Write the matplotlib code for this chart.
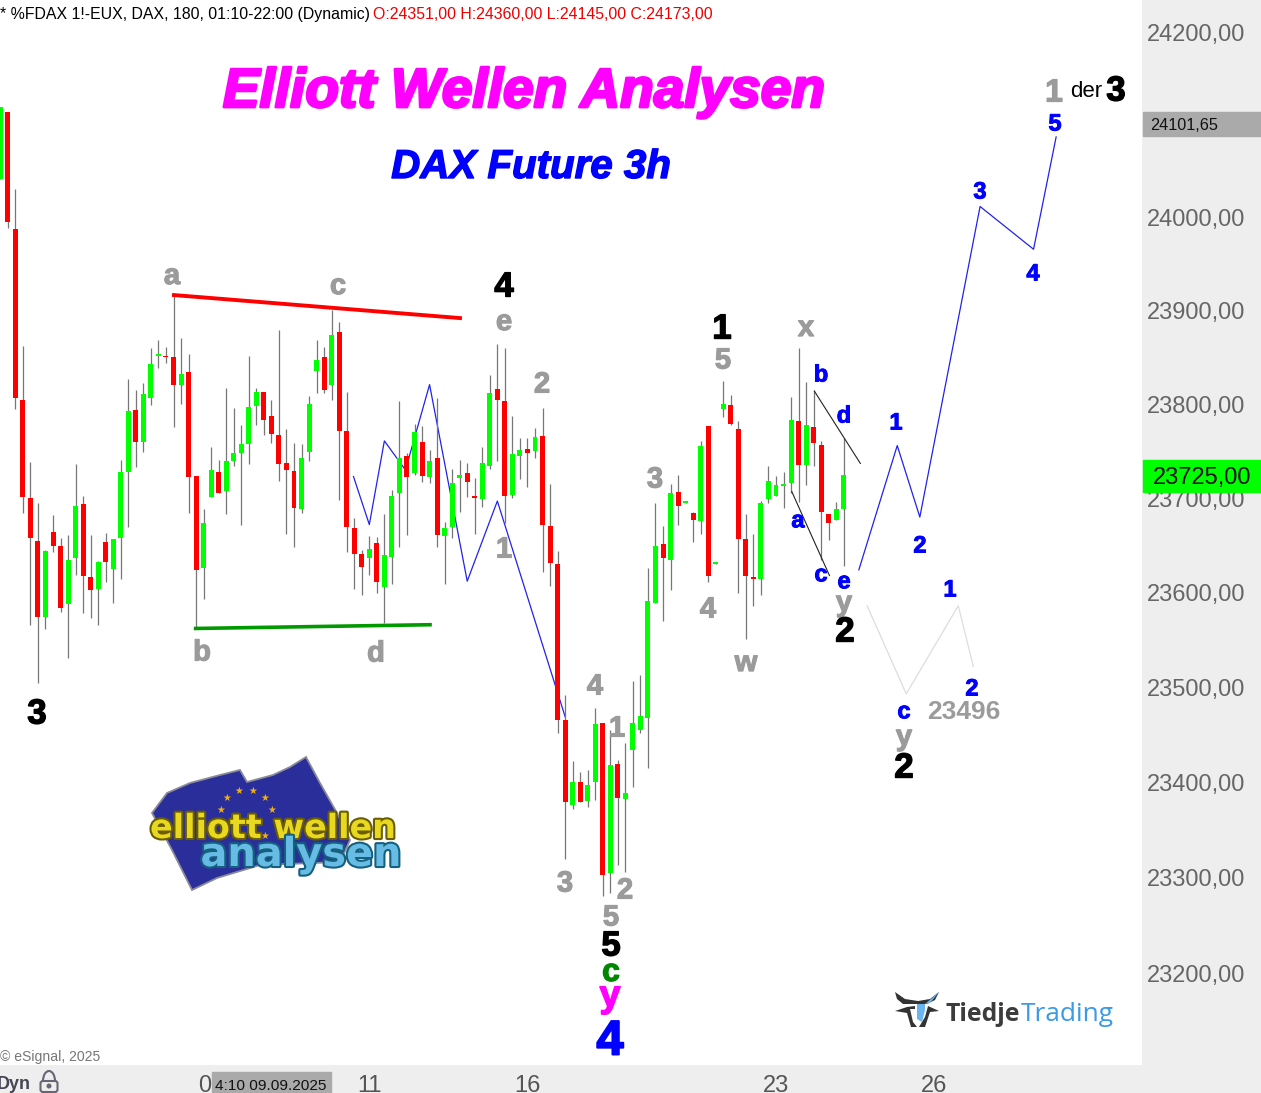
import matplotlib
matplotlib.use('Agg')
import matplotlib.pyplot as plt
import matplotlib.patheffects as pe
from matplotlib.patches import Polygon, Rectangle, FancyBboxPatch, Arc, Circle
from matplotlib.ticker import FixedLocator, FixedFormatter, NullLocator
from matplotlib.transforms import Affine2D
import numpy as np

W, H = 1261, 1093
plt.rcParams['font.family'] = ['Liberation Sans', 'DejaVu Sans']

# 3h candles, bar 0 is the one cut off at the left edge
opens = [24042,24114,23988,23805,23700,23655,23574,23664,23649,23588,23637,23694,23616,23604,23654,23625,23658,23728,23794,23760,
         23807,23852,23852,23850,23821,23835,23724,23626,23701,23728,23708,23740,23748,23758,23798,23813,23788,23767,23737,23729,
         23689,23749,23836,23850,23821,23877,23772,23668,23641,23637,23652,23606,23638,23706,23745,23727,23760,23723,23743,23660,
         23669,23721,23727,23702,23699,23734,23816,23804,23703,23745,23752,23750,23766,23670,23630,23466,23376,23400,23381,23400,
         23462,23305,23419,23383,23434,23455,23468,23589,23651,23634,23707,23695,23684,23676,23777,23630,23795,23799,23774,23657,
         23616,23614,23699,23702,23713,23716,23782,23735,23776,23757,23683,23677,23689]
highs = [24119,24114,24031,23862,23739,23695,23645,23682,23658,23661,23736,23702,23661,23633,23663,23657,23741,23827,23815,23823,
         23860,23869,23861,23916,23871,23854,23724,23689,23755,23741,23817,23796,23778,23852,23817,23813,23805,23879,23774,23759,
         23758,23809,23869,23861,23901,23888,23813,23679,23645,23660,23659,23683,23709,23803,23748,23779,23777,23751,23807,23675,
         23731,23741,23737,23722,23755,23831,23864,23860,23788,23764,23764,23775,23796,23715,23644,23492,23422,23411,23413,23478,
         23462,23455,23423,23441,23507,23513,23626,23695,23670,23715,23725,23697,23685,23761,23777,23632,23825,23810,23782,23683,
         23662,23697,23734,23724,23728,23808,23860,23824,23815,23761,23683,23696,23764]
lows = [24042,23989,23795,23684,23566,23505,23561,23643,23579,23531,23619,23578,23573,23566,23611,23589,23614,23669,23733,23749,
        23799,23839,23844,23776,23800,23684,23564,23593,23701,23706,23683,23734,23672,23736,23778,23767,23759,23718,23662,23648,
        23684,23740,23812,23812,23805,23698,23643,23604,23597,23619,23600,23568,23609,23648,23661,23725,23717,23716,23648,23609,
        23658,23685,23701,23662,23691,23731,23740,23674,23700,23720,23712,23743,23622,23607,23452,23320,23372,23379,23374,23382,
        23281,23284,23314,23306,23395,23452,23415,23589,23570,23603,23672,23695,23654,23662,23611,23630,23786,23778,23599,23551,
        23586,23597,23695,23702,23690,23706,23696,23714,23734,23634,23656,23677,23628]
closes = [24119,23995,23807,23701,23658,23574,23644,23649,23584,23634,23692,23617,23603,23632,23632,23657,23728,23793,23760,23811,
          23843,23854,23850,23821,23832,23723,23624,23674,23730,23706,23740,23748,23758,23797,23813,23783,23768,23736,23730,23690,
          23743,23800,23847,23815,23874,23771,23669,23641,23627,23646,23611,23640,23702,23743,23723,23770,23724,23740,23661,23668,
          23716,23725,23717,23700,23737,23812,23805,23702,23747,23751,23748,23765,23672,23631,23466,23379,23400,23379,23397,23461,
          23303,23418,23384,23389,23462,23470,23591,23649,23637,23706,23692,23697,23677,23756,23617,23632,23800,23779,23657,23617,
          23614,23695,23718,23714,23715,23783,23735,23778,23759,23685,23674,23689,23725]

# wave count lines: bar index / price
wave_x = [46.9, 49.0, 51.0, 53.8, 57.0, 62.0, 66.0, 75.0]
wave_y = [23723, 23672, 23761, 23730, 23821, 23612, 23697, 23469]
fcst_x = [114.0, 119.1, 122.1, 130.1, 137.2, 140.2]
fcst_y = [23624, 23756, 23680, 24012, 23966, 24087]
alt_x = [115.1, 120.3, 127.2, 129.2]
alt_y = [23586, 23493, 23586, 23522]
res_x, res_y = [22.8, 61.3], [23917, 23892]
sup_x, sup_y = [25.7, 57.3], [23562, 23566]
tri1_x, tri1_y = [105.1, 110.1], [23707, 23618]
tri2_x, tri2_y = [108.1, 114.2], [23814, 23737]

price_ticks = [24200, 24100, 24000, 23900, 23800, 23700, 23600, 23500, 23400, 23300, 23200]
date_bars = [28, 49, 70, 103, 124]
date_labels = ['09', '11', '16', '23', '26']

GREY, BLUE, BLACK = '#9b9b9b', '#0000ff', '#000000'
wave_labels = [
    ('a', 172, 275, GREY, 21), ('c', 338, 285, GREY, 21), ('b', 202, 650, GREY, 21), ('d', 376, 651, GREY, 21),
    ('e', 504, 321, GREY, 21), ('2', 542, 382, GREY, 21), ('1', 504, 547, GREY, 21), ('3', 655, 477, GREY, 21),
    ('5', 723, 358, GREY, 21), ('4', 708, 607, GREY, 21), ('w', 746, 662, GREY, 21), ('x', 806, 327, GREY, 21),
    ('4', 595, 684, GREY, 21), ('1', 617, 726, GREY, 21), ('3', 565, 881, GREY, 21), ('2', 625, 888, GREY, 21),
    ('5', 611, 915, GREY, 21), ('y', 844, 603, GREY, 21), ('y', 904, 737, GREY, 21), ('1', 1054, 90, GREY, 23),
    ('b', 821, 373, BLUE, 17), ('d', 844, 414, BLUE, 17), ('a', 798, 520, BLUE, 17), ('c', 821, 574, BLUE, 17),
    ('e', 844, 581, BLUE, 17), ('1', 896, 421, BLUE, 17), ('2', 920, 544, BLUE, 17), ('3', 980, 190, BLUE, 17),
    ('4', 1033, 272, BLUE, 17), ('5', 1055, 122, BLUE, 17), ('1', 950, 588, BLUE, 17), ('2', 972, 687, BLUE, 17),
    ('c', 904, 711, BLUE, 17),
    ('3', 37, 711, BLACK, 25), ('4', 504, 284, BLACK, 25), ('1', 722, 326, BLACK, 25), ('2', 845, 629, BLACK, 25),
    ('5', 611, 943, BLACK, 25), ('2', 904, 765, BLACK, 25), ('3', 1116, 88, BLACK, 25),
    ('c', 611, 971, '#008800', 23), ('y', 610, 996, '#ff00ff', 27), ('4', 610, 1037, BLUE, 35),
]

fig = plt.figure(figsize=(W/100 + 1e-6, H/100 + 1e-6), dpi=100, facecolor='#eeeeee')
T = Affine2D().scale(1/W, -1/H).translate(0, 1) + fig.transFigure  # pixel coords, y down
ax = fig.add_axes([0, 28/H, 1142/W, 1065/H], facecolor='white')
ax.set_yscale('log')
ax.set_xlim(-0.04, 151.6)
ax.set_ylim(23105.4, 24235.3)

# candles
bars = np.arange(len(opens))
opens, highs, lows, closes = map(np.array, (opens, highs, lows, closes))
up = closes >= opens
ax.vlines(bars, lows, highs, color='#777777', lw=0.9, zorder=3)
ax.bar(bars[up], np.maximum(closes[up] - opens[up], 2), bottom=opens[up], width=0.66, color='#00ff00', zorder=4)
ax.bar(bars[~up], np.maximum(opens[~up] - closes[~up], 2), bottom=closes[~up], width=0.66, color='#ff0000', zorder=4)

ax.plot(wave_x, wave_y, color='#2222ee', lw=0.9, zorder=2)
ax.plot(fcst_x, fcst_y, color='#2222ee', lw=0.9, zorder=2)
ax.plot(alt_x, alt_y, color='#dddddd', lw=0.9, zorder=2)
ax.plot(tri1_x, tri1_y, color='#222222', lw=0.8, zorder=5)
ax.plot(tri2_x, tri2_y, color='#222222', lw=0.8, zorder=5)
ax.plot(res_x, res_y, color='#ff0000', lw=2.8, zorder=5, solid_capstyle='butt')
ax.plot(sup_x, sup_y, color='#009900', lw=2.6, zorder=5, solid_capstyle='butt')

for s in ax.spines.values():
    s.set_visible(False)
ax.yaxis.tick_right()
ax.yaxis.set_major_locator(FixedLocator(price_ticks))
ax.yaxis.set_major_formatter(FixedFormatter([f'{p},00' for p in price_ticks]))
ax.yaxis.set_minor_locator(NullLocator())
ax.tick_params(axis='y', length=0, pad=3.5, labelsize=17, labelcolor='#666666')
ax.set_xticks(date_bars, date_labels)
ax.tick_params(axis='x', length=0, pad=7, labelsize=17, labelcolor='#555555')


def txt(x, y, s, **kw):
    return fig.text(x, y, s, transform=T, **kw)


def lab(s, x, y, color, size):
    # baseline from the visual centre of the glyph, slight stroke for the heavy look
    em = size * 100 / 72
    k = {'a': .31, 'c': .31, 'e': .31, 'w': .31, 'x': .31, 'y': .28}.get(s, .36)
    txt(x, y + k * em, s, color=color, fontsize=size, fontweight='bold', ha='center', va='baseline', zorder=8,
        path_effects=[pe.withStroke(linewidth=size * 0.04, foreground=color)])


for s, x, y, c, fs in wave_labels:
    lab(s, x, y, c, fs)
txt(1070, 97, 'der', color='black', fontsize=16, va='baseline', zorder=8)
txt(964, 719, '23496', color=GREY, fontsize=19, fontweight='bold', ha='center', va='baseline', zorder=8)

# header
txt(0, 19, '* %FDAX 1!-EUX, DAX, 180, 01:10-22:00 (Dynamic)', fontsize=11.45, color='black', va='baseline', zorder=8)
txt(373, 19, 'O:24351,00 H:24360,00 L:24145,00 C:24173,00', fontsize=11.45, color='#ee0000', va='baseline', zorder=8)
txt(524, 107, 'Elliott Wellen Analysen', fontsize=39.6, color='#ff00ff', fontweight='bold', fontstyle='italic',
    ha='center', va='baseline', zorder=8, path_effects=[pe.withStroke(linewidth=2, foreground='#ff00ff')])
txt(531, 178, 'DAX Future 3h', fontsize=29, color='#0000ff', fontweight='bold', fontstyle='italic',
    ha='center', va='baseline', zorder=8, path_effects=[pe.withStroke(linewidth=1, foreground='#0000ff')])
txt(0, 1061, '\u00a9 eSignal, 2025', fontsize=10.1, color='#777777', va='baseline', zorder=8)

# price boxes on the scale
fig.add_artist(Rectangle((1143, 112), 118, 24, transform=T, color='#aaaaaa', zorder=7))
txt(1150, 130, '24101,65', fontsize=11.7, color='#111111', va='baseline', zorder=8)
fig.add_artist(Rectangle((1143, 460), 118, 32, transform=T, color='#00ff00', zorder=7))
txt(1202, 484, '23725,00', fontsize=17, color='#111111', ha='center', va='baseline', zorder=8)

# time strip
fig.add_artist(Rectangle((212, 1072), 119, 21, transform=T, color='#aaaaaa', zorder=7))
txt(215, 1090, '4:10 09.09.2025', fontsize=11.1, color='#111111', va='baseline', zorder=8)
txt(-3, 1089, 'Dyn', fontsize=13, fontweight='bold', color='#444455', va='baseline', zorder=8)
fig.add_artist(FancyBboxPatch((40.5, 1081), 17, 11, boxstyle='round,pad=0,rounding_size=2.5', transform=T,
                              fc='none', ec='#666677', lw=1.5, zorder=8))
fig.add_artist(Arc((49, 1081), 12, 20, theta1=180, theta2=360, transform=T, ec='#666677', lw=1.5, zorder=8))
fig.add_artist(Circle((49, 1086), 1.8, transform=T, color='#666677', zorder=8))

# Elliott Wellen Analysen logo
flag = [(152, 813), (167, 793), (190, 783), (220, 775), (240, 770), (247, 782), (273, 775), (290, 767), (306, 757),
        (320, 783), (337, 813), (350, 840), (340, 862), (260, 865), (217, 878), (192, 890), (172, 850)]
fig.add_artist(Polygon(flag, closed=True, transform=T, fc='#2a2e9a', ec='#8a8a99', lw=1.3, zorder=6))
for sx, sy in [(227, 798), (239, 791), (253, 791), (265, 798), (272, 810), (265, 836), (221, 810)]:
    txt(sx, sy, '\u2605', fontsize=7, color='#f0b010', ha='center', va='center', family='DejaVu Sans', zorder=7)
txt(273, 838, 'elliott wellen', fontsize=24, color='#e8d820', fontweight='bold', family='DejaVu Sans', ha='center',
    va='baseline', zorder=7, path_effects=[pe.withStroke(linewidth=3, foreground='#6a5c00')])
txt(301, 866, 'analysen', fontsize=28.7, color='#66bce4', fontweight='bold', family='DejaVu Sans', ha='center',
    va='baseline', zorder=7, path_effects=[pe.withStroke(linewidth=3, foreground='#15607f')])

# TiedjeTrading logo, bull head
head_dark = [[(895, 992), (905, 999), (918, 1001), (918, 1004), (903, 1004), (897, 999)],
             [(939, 992), (935, 1000), (927, 1004), (918, 1004), (918, 1001), (930, 999)],
             [(895, 1011), (907, 1007), (915, 1006), (915, 1009), (910, 1009), (913, 1022), (917, 1027), (911, 1027), (907, 1013)],
             [(928, 1006), (939, 1011), (930, 1012), (925, 1027), (919, 1027), (925, 1017)]]
head_blue = [[(917, 1004), (925, 1004), (925, 1010), (922, 1022), (917, 1019)],
             [(925, 1004), (939, 992), (930, 1003)]]
for pts in head_dark:
    fig.add_artist(Polygon(pts, closed=True, transform=T, fc='#333333', ec='none', zorder=7))
for pts in head_blue:
    fig.add_artist(Polygon(pts, closed=True, transform=T, fc='#6ab4f0', ec='none', zorder=7))
txt(945, 1021, 'Tiedje', fontsize=17.8, fontweight='bold', family='Open Sans', color='#3c3c3c', va='baseline', zorder=7)
txt(1021, 1021, 'Trading', fontsize=18.9, family='Open Sans', color='#3a9ae8', va='baseline', zorder=7)

fig.savefig('out.png', dpi=100, facecolor=fig.get_facecolor())
